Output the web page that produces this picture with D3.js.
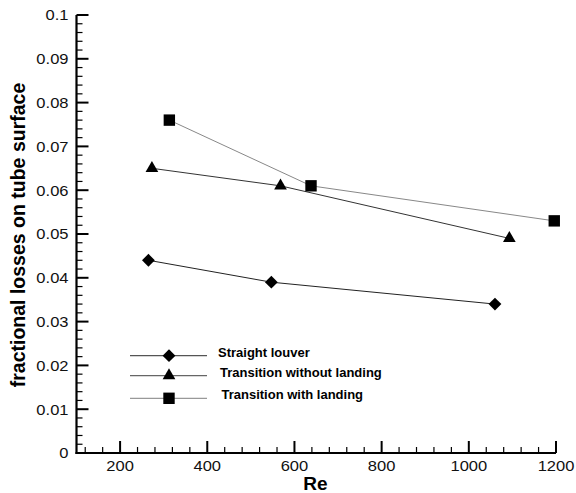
<!DOCTYPE html>
<html>
<head>
<meta charset="utf-8">
<script src="https://cdn.jsdelivr.net/npm/d3@7"></script>
<style>
  html, body { margin: 0; padding: 0; background: #fff; }
  svg { display: block; font-family: Arial, "Liberation Sans", sans-serif; }
</style>
</head>
<body>
<svg id="chart" width="576" height="493"></svg>
<script>
// Fractional losses on tube surface vs Reynolds number
const seriesNames = ["Straight louver", "Transition without landing", "Transition with landing"];
const straightRe = [265, 547, 1060];
const straightLoss = [0.044, 0.039, 0.034];
const noLandingRe = [273, 568, 1093];
const noLandingLoss = [0.065, 0.061, 0.049];
const landingRe = [313, 638, 1196];
const landingLoss = [0.076, 0.061, 0.053];
const xTickLabels = [200, 400, 600, 800, 1000, 1200];
const yTickLabels = [0, 0.01, 0.02, 0.03, 0.04, 0.05, 0.06, 0.07, 0.08, 0.09, 0.1];

const svg = d3.select("#chart");
const x = d3.scaleLinear().domain([100, 1200]).range([76.5, 556]);
const y = d3.scaleLinear().domain([0, 0.1]).range([453, 15]);

const series = [
  { name: seriesNames[0], re: straightRe, loss: straightLoss, symbol: d3.symbolDiamond2, size: 105, line: "#222", legendLine: "#555" },
  { name: seriesNames[1], re: noLandingRe, loss: noLandingLoss, symbol: d3.symbolTriangle, size: 70, line: "#333", legendLine: "#666" },
  { name: seriesNames[2], re: landingRe, loss: landingLoss, symbol: d3.symbolSquare, size: 130, line: "#888", legendLine: "#999" }
];

// Axes: ticks point inward, minor ticks between labels
const g = svg.append("g");
const yMinor = d3.range(0, 0.1001, 0.002);
g.selectAll(".ymin").data(yMinor).join("line")
  .attr("x1", x(100)).attr("x2", (d, i) => x(100) + (i % 5 === 0 ? 12 : 6))
  .attr("y1", d => y(d)).attr("y2", d => y(d))
  .attr("stroke", "#000").attr("stroke-width", (d, i) => i % 5 === 0 ? 2 : 1.2);
const xMinor = d3.range(120, 1200.1, 40);
g.selectAll(".xmin").data(xMinor).join("line")
  .attr("x1", d => x(d)).attr("x2", d => x(d))
  .attr("y1", y(0)).attr("y2", d => y(0) - ((d - 200) % 200 === 0 ? 12 : 6))
  .attr("stroke", "#000").attr("stroke-width", d => (d - 200) % 200 === 0 ? 2 : 1.2);
g.append("line").attr("x1", x(100)).attr("x2", x(100)).attr("y1", y(0) + 1).attr("y2", y(0.1))
  .attr("stroke", "#000").attr("stroke-width", 2.2);
g.append("line").attr("x1", x(100) - 1).attr("x2", x(1200)).attr("y1", y(0)).attr("y2", y(0))
  .attr("stroke", "#000").attr("stroke-width", 2.2);

// Tick labels use a slightly widened face
const stretch = 1.18;
g.selectAll(".yl").data(yTickLabels).join("text")
  .attr("transform", d => `translate(68.5,${y(d) + 5.3}) scale(${stretch},1)`)
  .attr("text-anchor", "end").attr("font-size", 14).attr("fill", "#111")
  .text(d => d === 0 ? "0" : d3.format("~g")(d));
g.selectAll(".xl").data(xTickLabels).join("text")
  .attr("transform", d => `translate(${x(d)},470.5) scale(${stretch},1)`)
  .attr("text-anchor", "middle").attr("font-size", 14).attr("fill", "#111")
  .text(d => d);

svg.append("text").attr("x", 315.5).attr("y", 489.5)
  .attr("text-anchor", "middle").attr("font-size", 19).attr("font-weight", "bold").text("Re");
svg.append("text").attr("transform", "translate(25,235) rotate(-90)")
  .attr("text-anchor", "middle").attr("font-size", 19.5).attr("font-weight", "bold")
  .text("fractional losses on tube surface");

// Series lines and markers
const line = d3.line().x(d => x(d[0])).y(d => y(d[1]));
series.forEach(s => {
  const pts = s.re.map((r, i) => [r, s.loss[i]]);
  svg.append("path").attr("d", line(pts)).attr("fill", "none")
    .attr("stroke", s.line).attr("stroke-width", 1);
  svg.selectAll(null).data(pts).join("path")
    .attr("d", d3.symbol().type(s.symbol).size(s.size))
    .attr("transform", d => `translate(${x(d[0])},${y(d[1])})`)
    .attr("fill", "#000");
});

// Legend
const legendY = [355.7, 375.7, 398.3];
const legendTextX = [218, 220, 221.5];
series.forEach((s, i) => {
  const lg = svg.append("g");
  lg.append("line").attr("x1", 130).attr("x2", 207).attr("y1", legendY[i]).attr("y2", legendY[i])
    .attr("stroke", s.legendLine).attr("stroke-width", 1.2);
  lg.append("path").attr("d", d3.symbol().type(s.symbol).size(s.size)())
    .attr("transform", `translate(169,${legendY[i]})`).attr("fill", "#000");
  lg.append("text").attr("x", legendTextX[i]).attr("y", legendY[i] + 1)
    .attr("font-size", 13).attr("font-weight", "bold").text(s.name);
});
</script>
</body>
</html>
